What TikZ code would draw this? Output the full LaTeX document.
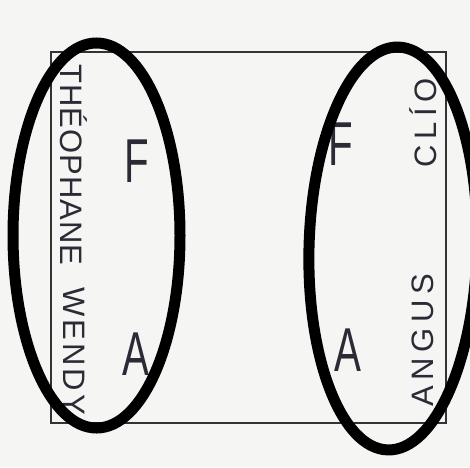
\documentclass[tikz,border=0pt]{standalone}
\usepackage{fontspec}
\setmainfont{Liberation Sans}
\usepackage{xcolor}
\usetikzlibrary{positioning}
\definecolor{paper}{HTML}{F5F5F4}
\definecolor{pencil}{HTML}{2B2B36}
\newcommand{\spread}[2]{{\addfontfeature{LetterSpace=#1}#2}}

\begin{document}
\begin{tikzpicture}[
    x=1pt, y=1pt,
    childname/.style={inner sep=0pt, text=pencil, font=\fontsize{31}{31}\selectfont},
    grouplabel/.style={inner sep=0pt, text=pencil, xscale=0.65,
                  font=\fontsize{62}{62}\selectfont},
    ring/.style={line width=11pt, black},
]
%% Paper and frame
\fill[paper] (0,0) rectangle (470,467);
\useasboundingbox (0,0) rectangle (470,467);
\draw[line width=1.4pt, black!80] (51,415) rectangle (446,44);

%% Names along the sides
\node[childname, rotate=-90] (theo)  at (74,302) {\spread{3}{THÉOPHANE}};
\node[childname, rotate=-90] (wendy) at (74,116) {\spread{10}{WENDY}};
\node[childname, rotate=90]  (clio)  at (423,344) {\spread{18}{CLÍO}};
\node[childname, rotate=90]  (angus) at (423,127) {\spread{18}{ANGUS}};

%% Letters inside the groups
\node[grouplabel] (fleft)  at (137,306) {F};
\node[grouplabel] (aleft)  at (136,113) {A};
\node[grouplabel] (fright) at (341,323) {F};
\node[grouplabel] (aright) at (348,117) {A};

%% Groups
\draw[ring] (96.5,231.5) ellipse [x radius=83.5, y radius=192.5];
\draw[ring, rotate around={-1.5:(393,218.5)}] (393,218.5) ellipse [x radius=84, y radius=201.5];
\end{tikzpicture}
\end{document}
